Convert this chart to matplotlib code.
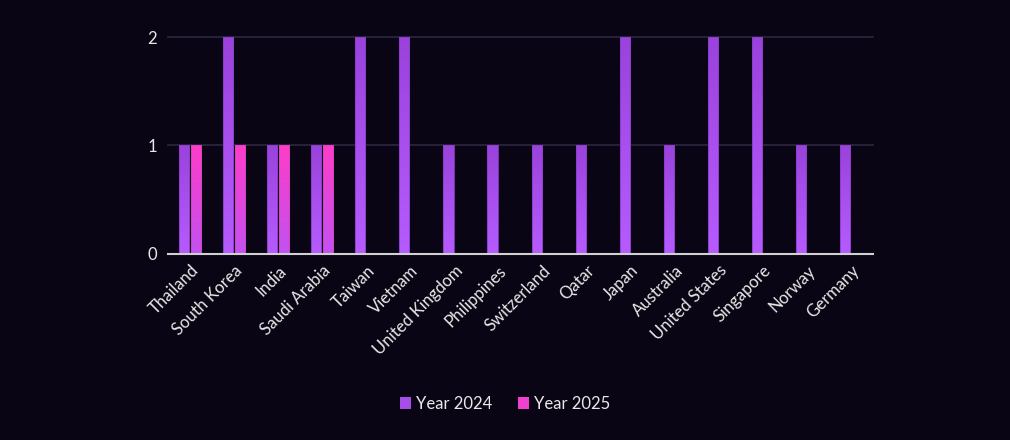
import matplotlib
matplotlib.use("Agg")
import matplotlib.pyplot as plt
import numpy as np
from matplotlib.colors import LinearSegmentedColormap
from matplotlib.patches import Rectangle

categories = ["Thailand", "South Korea", "India", "Saudi Arabia", "Taiwan", "Vietnam",
              "United Kingdom", "Philippines", "Switzerland", "Qatar", "Japan", "Australia",
              "United States", "Singapore", "Norway", "Germany"]
year_2024 = [1, 2, 1, 1, 2, 2, 1, 1, 1, 1, 2, 1, 2, 2, 1, 1]
year_2025 = [1, 1, 1, 1, 0, 0, 0, 0, 0, 0, 0, 0, 0, 0, 0, 0]
series_names = ["Year 2024", "Year 2025"]
yticks = [0, 1, 2]

bg = "#0a0514"
plt.rcParams['font.family'] = ['Lato', 'DejaVu Sans']

fig = plt.figure(figsize=(10.1, 4.4), dpi=100, facecolor=bg)
ax = fig.add_axes([168/1010, 1-254/440, (873-168)/1010, (254-37)/440])
ax.set_facecolor(bg)

x = np.arange(len(categories))
w = 0.23
off = 0.135
cmap24 = LinearSegmentedColormap.from_list("c24", ["#b65cff", "#9a42dc"])
cmap25 = LinearSegmentedColormap.from_list("c25", ["#c252f2", "#ff3cc8"])
grad = np.linspace(0, 1, 256).reshape(-1, 1)

def gbar(xc, h, cmap, edge):
    if h <= 0:
        return
    x0 = xc - w/2
    rect = Rectangle((x0, 0), w, h, facecolor="none", edgecolor=edge, linewidth=0.6, zorder=4)
    ax.add_patch(rect)
    im = ax.imshow(grad, extent=[x0, x0+w, 0, h], origin="lower", aspect="auto",
                   cmap=cmap, zorder=3, interpolation="bicubic")
    im.set_clip_path(rect)

for i in range(len(categories)):
    gbar(x[i]-off, year_2024[i], cmap24, "#8a3cc8")
    gbar(x[i]+off, year_2025[i], cmap25, "#d840c0")

ax.set_xlim(-0.5, len(categories)-0.5)
ax.set_ylim(0, 2)
ax.set_yticks(yticks)
ax.set_yticklabels([str(v) for v in yticks], color="#e8e8e8", fontsize=12)
ax.set_xticks(x)
ax.set_xticklabels(categories, rotation=45, ha="right", rotation_mode="anchor",
                   color="#e8e8e8", fontsize=12)
ax.tick_params(axis="both", length=0, pad=8)
ax.tick_params(axis="x", pad=6)
for s in ["top", "right", "left"]:
    ax.spines[s].set_visible(False)
ax.spines["bottom"].set_color("#d0d0d0")
ax.spines["bottom"].set_linewidth(1.5)
ax.spines["bottom"].set_zorder(5)
for v in [1, 2]:
    ax.axhline(v, color="#2c2640", linewidth=1.2, zorder=1, clip_on=False)

handles = [Rectangle((0, 0), 1, 1, facecolor="#a54ee8", edgecolor="none"),
           Rectangle((0, 0), 1, 1, facecolor="#f040d0", edgecolor="none")]
leg = fig.legend(handles, series_names, loc="center", bbox_to_anchor=(0.5, 1-404/440),
                 ncol=2, frameon=False, fontsize=12, labelcolor="#e8e8e8",
                 handlelength=0.7, handleheight=0.7, handletextpad=0.3, columnspacing=1.5)

fig.savefig("out.png", dpi=100, facecolor=bg)
